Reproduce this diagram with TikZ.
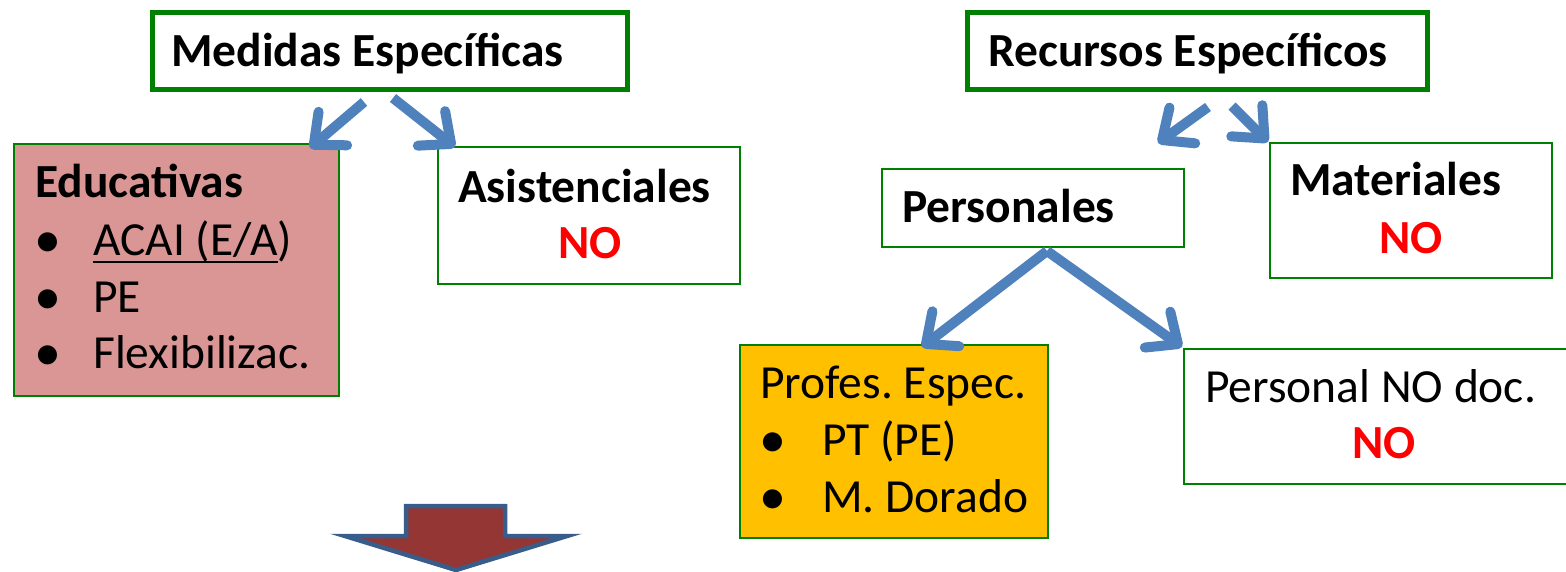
\documentclass[tikz,border=0pt]{standalone}
\usepackage{fontspec}
\setmainfont{Carlito}
\usepackage{tikz}
\usetikzlibrary{arrows.meta}
\definecolor{verde}{HTML}{008000}
\definecolor{azul}{HTML}{4F81BD}
\definecolor{rosa}{HTML}{D99694}
\definecolor{naranja}{HTML}{FFC000}
\definecolor{rojo}{HTML}{FF0000}
\definecolor{granate}{HTML}{943634}
\definecolor{azuloscuro}{HTML}{385D8A}
\newlength\subrayado
\newcommand\subraya[1]{\settowidth{\subrayado}{#1}\rlap{\rule[-8pt]{\subrayado}{2.4pt}}#1}
\frenchspacing

\begin{document}
\begin{tikzpicture}[x=1pt,y=-1pt,
    caja/.style={draw=verde,line width=1.6pt,anchor=north west,inner sep=0pt},
    cajatop/.style={caja,line width=5pt},
    texto/.style={anchor=base west,inner sep=0pt,font=\fontsize{47.5}{56}\selectfont},
    negrita/.style={texto,font=\fontsize{47.5}{56}\selectfont\bfseries},
    punto/.style={texto,font=\fontsize{54}{60}\selectfont},
    no/.style={negrita,text=rojo},
    flecha/.style={draw=azul,line width=10pt,-{Straight Barb[length=25pt,width=44pt,round]}}]
  \useasboundingbox (0,0) rectangle (1566,571);

  % cajas
  \node[cajatop,minimum width=475pt,minimum height=77pt] (med) at (150,9.5) {};
  \node[cajatop,minimum width=460pt,minimum height=77pt] (rec) at (965,9.5) {};
  \node[caja,fill=rosa,minimum width=325pt,minimum height=252pt] (edu) at (13,143) {};
  \node[caja,minimum width=302pt,minimum height=137pt] (asi) at (437,146) {};
  \node[caja,minimum width=302pt,minimum height=78pt] (per) at (881,168) {};
  \node[caja,minimum width=282pt,minimum height=135pt] (mat) at (1269,142) {};
  \node[caja,fill=naranja,minimum width=308pt,minimum height=193pt] (pro) at (739,344) {};
  \node[caja,minimum width=400pt,minimum height=135pt] (pnd) at (1183,348) {};

  % textos
  \node[negrita] (medt) at (171,66) {Medidas Específicas};
  \node[negrita] (rect) at (988,66) {Recursos Específicos};
  \node[negrita] (edut) at (35,197) {Educativas};
  \node[punto] (edub1) at (34,257) {•};
  \node[texto] (edui1) at (93,255) {\subraya{ACAI (E/A})};
  \node[punto] (edub2) at (34,314) {•};
  \node[texto] (edui2) at (93,312) {PE};
  \node[punto] (edub3) at (34,370) {•};
  \node[texto] (edui3) at (93,368) {Flexibilizac.};
  \node[negrita] (asit) at (458,202) {Asistenciales};
  \node[no] (asino) at (558,258) {NO};
  \node[negrita] (pert) at (902,222) {Personales};
  \node[negrita] (matt) at (1290,195) {Materiales};
  \node[no] (matno) at (1379,253) {NO};
  \node[texto] (prot) at (760,398) {Profes. Espec.};
  \node[punto] (prob1) at (759,457) {•};
  \node[texto] (proi1) at (822,455) {PT (PE)};
  \node[punto] (prob2) at (759,514) {•};
  \node[texto] (proi2) at (822,512) {M. Dorado};
  \node[texto] (pndt) at (1205,402) {Personal NO doc.};
  \node[no] (pndno) at (1352,458) {NO};

  % flechas
  \coordinate (m1) at (364,102);
  \coordinate (m2) at (393,98);
  \coordinate (r1) at (1208,107);
  \coordinate (r2) at (1232,106);
  \coordinate (p0) at (1047,251);
  \coordinate (eduf) at (310,148);
  \coordinate (asif) at (455,147);
  \coordinate (perf) at (1158,143);
  \coordinate (matf) at (1268,142);
  \coordinate (prof) at (922,347);
  \coordinate (pndf) at (1182,347);
  \draw[flecha] (m1)--(eduf);
  \draw[flecha] (m2)--(asif);
  \draw[flecha] (r1)--(perf);
  \draw[flecha] (r2)--(matf);
  \draw[flecha] (p0)--(prof);
  \draw[flecha] (p0)--(pndf);

  % flecha grande
  \draw[line width=4.5pt,draw=azuloscuro,fill=granate,line join=miter]
    (406,506)--(505,506)--(505,536)--(567,536)--(456,570)--(345,536)--(406,536)--cycle;
\end{tikzpicture}
\end{document}
